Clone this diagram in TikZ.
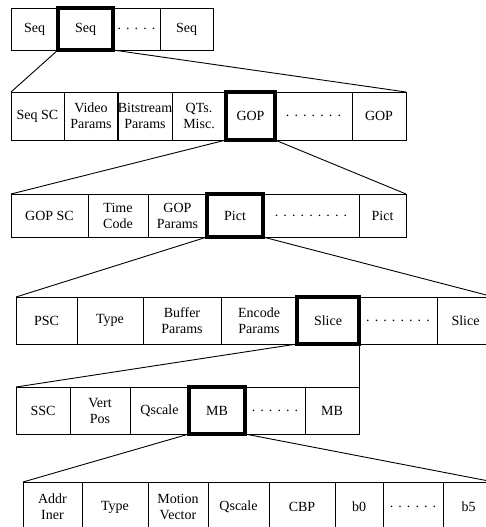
\documentclass[tikz,border=0pt]{standalone}
\usepackage{fontspec}
\setmainfont{Liberation Serif}
\begin{document}
\newcommand\spacedots[1]{\foreach \k in {1,...,#1}{\hbox to 8.6pt{\hss.\hss}}}
% \cell{name}{x1}{x2}{y1}{y2}{style}{text}
\newcommand\cell[7]{%
  \node[#6, minimum width={#3-#2}, minimum height={#5-#4}]
    (#1) at ({(#2+#3)/2},{(#4+#5)/2}) {#7};}
\begin{tikzpicture}[x=1pt,y=-1pt,
  font=\fontsize{14}{16}\selectfont,
  box/.style={draw, line width=0.9pt, inner sep=0pt, outer sep=0pt, align=center},
  keybox/.style={box, line width=3.4pt},
  link/.style={line width=0.9pt}]
\useasboundingbox (0,0) rectangle (486,527);
\clip (0,0) rectangle (486,527);
% sequence layer
\cell{s1}{11}{58}{8}{50}{box}{Seq}
\cell{s2}{58}{113}{8}{50}{keybox}{Seq}
\cell{s3}{113}{160}{8}{50}{box}{\spacedots{5}}
\cell{s4}{160}{213}{8}{50}{box}{Seq}
% sequence header and GOPs
\cell{g1}{11}{64}{92}{140}{box}{Seq SC}
\cell{g2}{64}{118}{92}{140}{box}{Video\\Params}
\cell{g3}{118}{172}{92}{140}{box}{Bitstream\\Params}
\cell{g4}{172}{226}{92}{140}{box}{QTs.\\Misc.}
\cell{g6}{275}{352}{92}{140}{box}{\spacedots{7}}
\cell{g7}{352}{406}{92}{140}{box}{GOP}
\cell{g5}{226}{275}{92}{140}{keybox}{GOP}
% GOP header and pictures
\cell{p1}{11}{88}{194}{237}{box}{GOP SC}
\cell{p2}{88}{148}{194}{237}{box}{Time\\Code}
\cell{p3}{148}{207}{194}{237}{box}{GOP\\Params}
\cell{p5}{263}{359}{194}{237}{box}{\spacedots{9}}
\cell{p6}{359}{406}{194}{237}{box}{Pict}
\cell{p4}{207}{263}{194}{237}{keybox}{Pict}
% picture header and slices
\cell{c1}{16}{77}{297}{344}{box}{PSC}
\cell{c2}{77}{143}{297}{344}{box}{Type}
\cell{c3}{143}{221}{297}{344}{box}{Buffer\\Params}
\cell{c4}{221}{297}{297}{344}{box}{Encode\\Params}
\cell{c6}{359}{437}{297}{344}{box}{\spacedots{8}}
\cell{c7}{437}{494}{297}{344}{box}{Slice}
\cell{c5}{297}{359}{297}{344}{keybox}{Slice}
% slice header and macroblocks
\cell{m1}{16}{70}{387}{434}{box}{SSC}
\cell{m2}{70}{130}{387}{434}{box}{Vert\\Pos}
\cell{m3}{130}{189}{387}{434}{box}{Qscale}
\cell{m5}{245}{305}{387}{434}{box}{\spacedots{6}}
\cell{m6}{305}{359}{387}{434}{box}{MB}
\cell{m4}{189}{245}{387}{434}{keybox}{MB}
% macroblock fields and blocks
\cell{b1}{23}{82}{482}{532}{box}{Addr\\Iner}
\cell{b2}{82}{148}{482}{532}{box}{Type}
\cell{b3}{148}{208}{482}{532}{box}{Motion\\Vector}
\cell{b4}{208}{269}{482}{532}{box}{Qscale}
\cell{b5}{269}{335}{482}{532}{box}{CBP}
\cell{b6}{335}{383}{482}{532}{box}{b0}
\cell{b7}{383}{443}{482}{532}{box}{\spacedots{6}}
\cell{b8}{443}{494}{482}{532}{box}{b5}
% expansion lines
\draw[link] (s2.south west) -- (g1.north west);
\draw[link] (s2.south east) -- (g7.north east);
\draw[link] (g5.south west) -- (p1.north west);
\draw[link] (g5.south east) -- (p6.north east);
\draw[link] (p4.south west) -- (c1.north west);
\draw[link] (p4.south east) -- (c7.north east);
\draw[link] (c5.south west) -- (m1.north west);
\draw[link] (c5.south east) -- (m6.north east);
\draw[link] (m4.south west) -- (b1.north west);
\draw[link] (m4.south east) -- (b8.north east);
\end{tikzpicture}
\end{document}
